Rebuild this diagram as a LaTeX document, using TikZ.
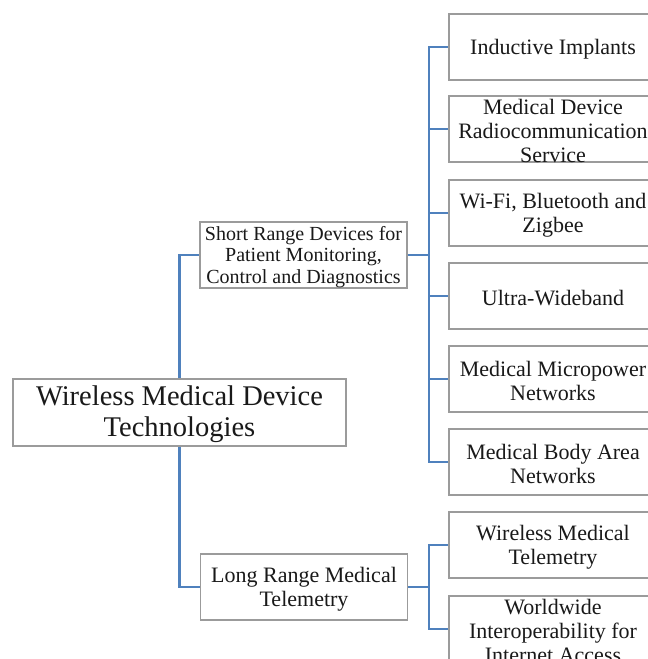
\documentclass[tikz,border=0pt]{standalone}
\usepackage{fontspec}
\setmainfont{Liberation Serif}
\definecolor{boxgray}{RGB}{155,155,155}
\definecolor{linkblue}{RGB}{79,129,189}
\definecolor{inkdark}{RGB}{25,25,25}
\begin{document}
\begin{tikzpicture}[x=1pt,y=-1pt,
  frame/.style={draw=boxgray,line width=1.2pt,fill=white,inner sep=0pt,
    minimum height=66pt},
  rootbox/.style={frame,minimum width=333pt,minimum height=67pt},
  midbox/.style={frame,minimum width=207pt},
  leafbox/.style={frame,minimum width=208pt},
  textbase/.style={align=center,text=inkdark,inner sep=0pt,yshift=-2pt},
  roottext/.style={textbase,font=\fontsize{28.5}{31}\selectfont},
  srtext/.style={textbase,font=\fontsize{20}{21.5}\selectfont},
  bigtext/.style={textbase,font=\fontsize{22}{24}\selectfont},
  link/.style={draw=linkblue,line width=2.4pt}]
\useasboundingbox (0,0) rectangle (648,659);
\clip (0,0) rectangle (648,659);
\fill[white] (0,0) rectangle (648,659);

% root and the two groups
\node[rootbox] (root) at (179.5,412.5) {};
\node[roottext] (root-t) at (root) {Wireless Medical Device\\Technologies};
\node[midbox] (sr) at (303.5,255) {};
\node[srtext] (sr-t) at (sr) {Short Range Devices for\\Patient Monitoring,\\Control and Diagnostics};
\node[midbox] (lr) at (304,587) {};
\node[bigtext] (lr-t) at (lr) {Long Range Medical\\Telemetry};

% short range leaves
\node[leafbox] (ind) at (553,47) {};
\node[bigtext] (ind-t) at (ind) {Inductive Implants};
\node[leafbox] (mdrs) at (553,129) {};
\node[bigtext] (mdrs-t) at (mdrs) {Medical Device\\Radiocommunication\\Service};
\node[leafbox] (wifi) at (553,213) {};
\node[bigtext] (wifi-t) at (wifi) {Wi-Fi, Bluetooth and\\Zigbee};
\node[leafbox] (uwb) at (553,296) {};
\node[bigtext] (uwb-t) at (uwb) {Ultra-Wideband};
\node[leafbox] (mmn) at (553,379) {};
\node[bigtext] (mmn-t) at (mmn) {Medical Micropower\\Networks};
\node[leafbox] (mban) at (553,462) {};
\node[bigtext] (mban-t) at (mban) {Medical Body Area\\Networks};

% long range leaves
\node[leafbox] (wmt) at (553,545) {};
\node[bigtext] (wmt-t) at (wmt) {Wireless Medical\\Telemetry};
\node[leafbox] (wimax) at (553,629) {};
\node[bigtext] (wimax-t) at (wimax) {Worldwide\\Interoperability for\\Internet Access};

% connectors
\coordinate (trunkA) at (429,255);
\coordinate (trunkB) at (429,587);
\draw[link] (root.north) |- (sr.west);
\draw[link] (root.south) |- (lr.west);
\draw[link] (sr.east) -- (trunkA);
\foreach \leaf in {ind,mdrs,wifi,uwb,mmn,mban}
  \draw[link] (trunkA) |- (\leaf.west);
\draw[link] (lr.east) -- (trunkB);
\foreach \leaf in {wmt,wimax}
  \draw[link] (trunkB) |- (\leaf.west);
\end{tikzpicture}
\end{document}
